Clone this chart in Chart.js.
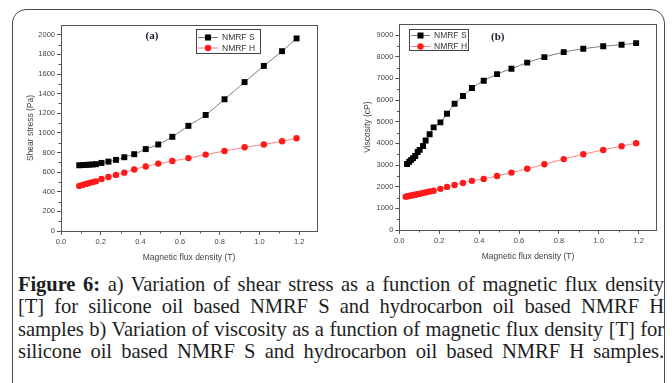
<!DOCTYPE html>
<html><head><meta charset="utf-8">
<script src="https://cdn.jsdelivr.net/npm/chart.js@4/dist/chart.umd.min.js"></script>
<style>
html,body{margin:0;padding:0;background:#fff;width:672px;height:383px;overflow:hidden;position:relative;}
#frame{position:absolute;left:12px;top:9px;width:651px;height:420px;border:1.5px solid #4a4a4a;border-radius:14px 14px 0 0;}
#ca{position:absolute;left:0;top:0;}
#cb{position:absolute;left:336px;top:0;}
#cap{position:absolute;left:18px;top:273px;width:646px;font-family:'Liberation Serif','Times New Roman',serif;font-size:20.6px;line-height:22.3px;color:#1e1e1e;letter-spacing:-0.1px;}
#cap div{text-align:justify;text-align-last:justify;white-space:nowrap;}
#cap div.j{white-space:normal;}
</style></head><body>
<div id="frame"></div>
<canvas id="ca" width="336" height="270"></canvas>
<canvas id="cb" width="336" height="270"></canvas>
<div id="cap">
<div class="j"><b>Figure 6:</b> a) Variation of shear stress as a function of magnetic flux density</div>
<div class="j">[T] for silicone oil based NMRF S and hydrocarbon oil based NMRF H</div>
<div class="j">samples b) Variation of viscosity as a function of magnetic flux density [T] for</div>
<div class="j">silicone oil based NMRF S and hydrocarbon oil based NMRF H samples.</div>
</div>
<script>
// ---- data ----
const seriesNames = ['NMRF S', 'NMRF H'];
const fluxA = [0.092, 0.109, 0.126, 0.142, 0.159, 0.176, 0.204, 0.239, 0.277, 0.319, 0.369, 0.427, 0.490, 0.561, 0.642, 0.729, 0.824, 0.925, 1.022, 1.114, 1.187];
const shearS = [670, 672, 674, 676, 678, 681, 694, 707, 725, 752, 783, 835, 882, 960, 1072, 1183, 1343, 1518, 1683, 1833, 1963];
const shearH = [460, 470, 480, 490, 498, 506, 530, 550, 572, 595, 627, 658, 687, 713, 743, 779, 816, 853, 882, 915, 946];
const fluxBS = [0.039, 0.050, 0.060, 0.069, 0.080, 0.092, 0.102, 0.119, 0.132, 0.152, 0.172, 0.206, 0.239, 0.277, 0.319, 0.364, 0.423, 0.490, 0.562, 0.641, 0.727, 0.824, 0.922, 1.022, 1.114, 1.187];
const viscS = [3050, 3150, 3240, 3320, 3420, 3600, 3700, 3880, 4130, 4420, 4740, 4970, 5370, 5830, 6190, 6560, 6890, 7200, 7450, 7730, 7985, 8215, 8370, 8485, 8555, 8630];
const fluxBH = [0.032, 0.040, 0.048, 0.056, 0.064, 0.072, 0.080, 0.090, 0.100, 0.110, 0.122, 0.136, 0.152, 0.172, 0.206, 0.239, 0.277, 0.319, 0.364, 0.423, 0.490, 0.562, 0.641, 0.727, 0.824, 0.922, 1.022, 1.114, 1.187];
const viscH = [1540, 1555, 1570, 1585, 1600, 1615, 1630, 1650, 1670, 1690, 1715, 1745, 1775, 1810, 1900, 1990, 2080, 2170, 2270, 2360, 2497, 2650, 2830, 3035, 3275, 3497, 3698, 3870, 4010];
const xTicks = [0, 0.2, 0.4, 0.6, 0.8, 1.0, 1.2];
const yTicksA = [0, 200, 400, 600, 800, 1000, 1200, 1400, 1600, 1800, 2000];
const yTicksB = [0, 1000, 2000, 3000, 4000, 5000, 6000, 7000, 8000, 9000];
const xTitle = 'Magnetic flux density (T)';

const FONT = "'Liberation Sans', Arial, sans-serif";
const AX = '#555';
const TXT = '#444';

function pts(xs, ys){ return xs.map((x,i)=>({x:x, y:ys[i]})); }

const decor = {
  id: 'decor',
  afterDraw(chart, args, o) {
    const ctx = chart.ctx, a = chart.chartArea, xs = chart.scales.x, ys = chart.scales.y;
    ctx.save();
    ctx.strokeStyle = AX; ctx.lineWidth = 1;
    ctx.strokeRect(Math.round(a.left)+0.5, Math.round(a.top)+0.5, Math.round(a.right-a.left), Math.round(a.bottom-a.top));
    // minor ticks
    ctx.beginPath();
    for (let i=0;i<xs.ticks.length-1;i++){
      const v=(xs.ticks[i].value+xs.ticks[i+1].value)/2;
      const px=Math.round(xs.getPixelForValue(v))+0.5;
      ctx.moveTo(px,a.bottom); ctx.lineTo(px,a.bottom+2.5);
    }
    for (let i=0;i<ys.ticks.length-1;i++){
      const v=(ys.ticks[i].value+ys.ticks[i+1].value)/2;
      const py=Math.round(ys.getPixelForValue(v))+0.5;
      ctx.moveTo(a.left,py); ctx.lineTo(a.left-2.5,py);
    }
    ctx.stroke();
    // legend box
    const L=o.legend;
    ctx.strokeStyle='#444'; ctx.lineWidth=1;
    ctx.strokeRect(L.x+0.5,L.y+0.5,L.w,L.h);
    chart.data.datasets.forEach((ds,i)=>{
      const y=L.rows[i];
      ctx.strokeStyle=ds.borderColor; ctx.lineWidth=1;
      ctx.beginPath(); ctx.moveTo(L.x+2,y); ctx.lineTo(L.x+2+L.line,y); ctx.stroke();
      ctx.fillStyle=ds.pointBackgroundColor;
      const cx=L.x+2+L.line/2;
      if(ds.pointStyle==='rect'){ ctx.fillRect(cx-3,y-3,6,6); }
      else { ctx.beginPath(); ctx.arc(cx,y,3.2,0,Math.PI*2); ctx.fill(); }
      ctx.fillStyle='#333'; ctx.font='8.5px '+FONT; ctx.textBaseline='middle'; ctx.textAlign='left';
      ctx.fillText(ds.label, L.x+L.line+6, y+0.5);
    });
    // panel label
    ctx.fillStyle='#1c1c2c'; ctx.font="bold 11px 'Liberation Serif', serif"; ctx.textAlign='center'; ctx.textBaseline='middle';
    ctx.fillText(o.label.text,o.label.x,o.label.y);
    ctx.restore();
  }
};

function makeChart(id, sx, sy, hx, hy, yMax, yTicks, yTitle, pad, yw, legend, label){
  return new Chart(document.getElementById(id), {
    type: 'line',
    data: { datasets: [
      { label: seriesNames[0], data: pts(sx, sy), borderColor: '#7a7a7a', borderWidth: 1,
        pointStyle: 'rect', pointRadius: 4.2, pointBackgroundColor: '#000', pointBorderColor: '#000', pointBorderWidth: 0,
        tension: 0.3, fill: false },
      { label: seriesNames[1], data: pts(hx, hy), borderColor: '#ff8080', borderWidth: 1,
        pointStyle: 'circle', pointRadius: 3.2, pointBackgroundColor: '#ff1a1a', pointBorderColor: '#ff1a1a', pointBorderWidth: 0,
        tension: 0.3, fill: false }
    ]},
    options: {
      responsive: false, animation: false, devicePixelRatio: 1,
      layout: { padding: pad },
      plugins: { legend: { display: false }, tooltip: { enabled: false }, decor: { legend: legend, label: label } },
      scales: {
        x: { type: 'linear', min: 0, max: 1.29,
          afterBuildTicks: s => { s.ticks = xTicks.map(v => ({ value: v })); },
          afterFit: s => { s.height = 33; },
          grid: { drawOnChartArea: false, color: AX, tickLength: 4 },
          border: { color: AX },
          ticks: { autoSkip: false, maxRotation: 0, padding: 2, color: TXT, font: { family: FONT, size: 7.5 }, callback: v => Number(v).toFixed(1) },
          title: { display: true, text: xTitle, color: TXT, font: { family: FONT, size: 8.5 }, padding: { top: 0, bottom: 1.2 } } },
        y: { type: 'linear', min: 0, max: yMax,
          afterBuildTicks: s => { s.ticks = yTicks.map(v => ({ value: v })); },
          afterFit: s => { s.width = yw; },
          grid: { drawOnChartArea: false, color: AX, tickLength: 4 },
          border: { color: AX },
          ticks: { autoSkip: false, padding: 2, color: TXT, font: { family: FONT, size: 7.5 }, callback: v => String(v) },
          title: { display: true, text: yTitle, color: TXT, font: { family: FONT, size: 8.5 }, padding: { top: 5, bottom: 0 } } }
      }
    },
    plugins: [decor]
  });
}

makeChart('ca', fluxA, shearS, fluxA, shearH, 2100, yTicksA, 'Shear stress (Pa)',
  { left: 21, right: 19, top: 25, bottom: 6 }, 40,
  { x: 196, y: 29, w: 64, h: 24, line: 20, rows: [37.5, 48] }, { text: '(a)', x: 152, y: 36 });
makeChart('cb', fluxBS, viscS, fluxBH, viscH, 9500, yTicksB, 'Viscosity (cP)',
  { left: 21.3, right: 15.3, top: 24.3, bottom: 7 }, 42,
  { x: 73, y: 29, w: 59, h: 21, line: 19, rows: [35.5, 46.5] }, { text: '(b)', x: 161.7, y: 36.7 });
</script>
</body></html>
